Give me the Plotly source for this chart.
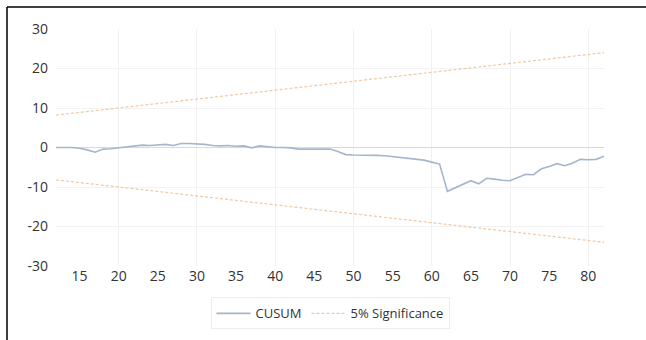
import plotly.graph_objects as go

t = list(range(12, 83))
cusum = [0.0, 0.0, 0.0, -0.2, -0.6, -1.2, -0.4, -0.3, -0.1, 0.1,
         0.3, 0.6, 0.5, 0.7, 0.8, 0.5, 1.0, 1.0, 0.9, 0.8,
         0.5, 0.4, 0.5, 0.3, 0.4, -0.1, 0.4, 0.2, 0.0, 0.0,
         -0.1, -0.4, -0.4, -0.5, -0.5, -0.4, -1.0, -1.8, -1.9, -1.9,
         -1.9, -2.0, -2.1, -2.3, -2.5, -2.8, -2.9, -3.2, -3.7, -4.2,
         -11.1, -10.2, -9.3, -8.4, -9.2, -7.8, -8.0, -8.3, -8.4, -7.6,
         -6.8, -6.9, -5.4, -4.8, -4.1, -4.6, -3.9, -3.0, -3.1, -3.0,
         -2.2]
sig_x = [12, 82]
sig_upper = [8.2, 24.0]
sig_lower = [-8.2, -24.0]
x_ticks = list(range(15, 85, 5))
y_ticks = [-30, -20, -10, 0, 10, 20, 30]
y_labels = ["-30", "-20", "-10", "0", "10", "20", "30"]

blue = "#a4b6cc"
orange = "#f2c8a0"

fig = go.Figure()
fig.add_trace(go.Scatter(x=t, y=cusum, mode="lines", name="CUSUM",
                         line=dict(color=blue, width=1.6)))
fig.add_trace(go.Scatter(x=sig_x, y=sig_upper, mode="lines", name="5% Significance",
                         line=dict(color=orange, width=1.2, dash="3px,2px")))
fig.add_trace(go.Scatter(x=sig_x, y=sig_lower, mode="lines", name="5% Significance",
                         showlegend=False,
                         line=dict(color=orange, width=1.2, dash="3px,2px")))

L, R, T, B = 56, 42, 29, 74
W, H = 646, 340
pw, ph = W - L - R, H - T - B
bx = (7 - L) / pw
by = 1 + (T - 7) / ph

fig.update_layout(
    width=W, height=H,
    margin=dict(l=L, r=R, t=T, b=B, pad=0, autoexpand=False),
    paper_bgcolor="white", plot_bgcolor="white",
    font=dict(family="Open Sans", size=14, color="#333333"),
    showlegend=True,
    legend=dict(orientation="h", x=0.5, xanchor="center", y=-0.2, yanchor="middle",
                bordercolor="#ececec", borderwidth=1, font=dict(size=13, color="#333333"),
                itemwidth=34, tracegroupgap=0),
    xaxis=dict(range=[12, 82], tickvals=x_ticks, showgrid=False, zeroline=False,
               showline=False, ticks="", ticklen=0, automargin=False,
               minor=dict(tickvals=list(range(20, 90, 10)), showgrid=True,
                          gridcolor="#f0f0f0", gridwidth=1, ticks="")),
    yaxis=dict(range=[-30, 30], tickvals=y_ticks, ticktext=y_labels, showgrid=True,
               gridcolor="#f2f2f2", automargin=False,
               zeroline=True, zerolinecolor="#d9d9d9", zerolinewidth=1.3,
               showline=False, ticks="", ticklabelstandoff=7),
    shapes=[
        dict(type="line", xref="paper", yref="paper", x0=bx, x1=bx, y0=-0.5, y1=by,
             line=dict(color="black", width=1.5), layer="above"),
        dict(type="line", xref="paper", yref="paper", x0=bx, x1=1.2, y0=by, y1=by,
             line=dict(color="black", width=1.5), layer="above"),
    ],
)

fig.write_html("out.html", config={"displayModeBar": False},
               post_script="document.body.style.margin='0';document.body.style.padding='0';")
